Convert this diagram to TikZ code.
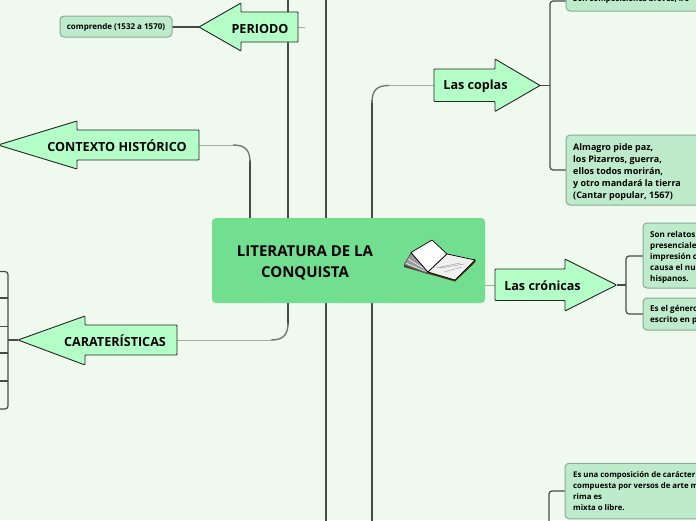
\documentclass[tikz,border=0pt]{standalone}
\usepackage{fontspec}
\setmainfont{Open Sans}
\usepackage{tikz}

\definecolor{bgcol}{HTML}{EFF9EE}
\definecolor{rootcol}{HTML}{72DE8F}
\definecolor{arrowcol}{HTML}{B4FFC8}
\definecolor{notecol}{HTML}{BEEBCB}
\definecolor{notedraw}{HTML}{8BAA95}
\definecolor{linecol}{HTML}{434D45}
\definecolor{thincol}{HTML}{A3AFA5}

\tikzset{
  root/.style={fill=rootcol, rounded corners=4pt},
  arrowbox/.style={draw=black!85, fill=arrowcol, line width=.9pt, rounded corners=.8pt},
  arrowtext/.style={inner sep=0pt, font=\bfseries\fontsize{12.6}{15}\selectfont},
  note/.style={draw=notedraw, fill=notecol, line width=1pt, rounded corners=4pt},
  notetext/.style={inner sep=0pt, anchor=north west, align=left, font=\bfseries\fontsize{9}{12}\selectfont},
  smalltext/.style={notetext, font=\bfseries\fontsize{8.1}{11}\selectfont},
  widetext/.style={notetext, font=\bfseries\fontsize{7.8}{11}\selectfont},
  trunk/.style={draw=linecol, line width=2pt},
  twig/.style={draw=linecol, line width=1.2pt, rounded corners=3pt},
  stem/.style={draw=thincol, line width=1pt},
  curveline/.style={draw=linecol!75, line width=1.4pt},
}

\begin{document}
\begin{tikzpicture}[x=1pt, y=-1pt]
  \clip (0,0) rectangle (696,520);
  \fill[bgcol] (0,0) rectangle (696,520);

  \coordinate (top) at (326,-5);
  \coordinate (bottom) at (326,525);
  \coordinate (leftend) at (250,218);
  \coordinate (midend) at (288,-5);
  \coordinate (copend) at (372,525);
  \coordinate (lowbr) at (549,525);

  % trunks behind the root
  \draw[trunk] (top) -- (bottom);
  \draw[trunk] (midend) -- (288,325);
  \draw[trunk] (copend) -- (372,100);
  \draw[trunk] (leftend) -- (250,160);
  \draw[stem] (199,145) -- (233,145);
  \draw[curveline] (233,145) .. controls (245,145) and (250,150) .. (250,162);
  \draw[stem] (177,340) -- (271,340);
  \draw[curveline] (271,340) .. controls (283,340) and (288,335) .. (288,323);
  \draw[stem] (434,85.5) -- (389,85.5);
  \draw[curveline] (389,85.5) .. controls (377,85.5) and (372,90) .. (372,103);

  % root
  \node[root, minimum width=273pt, minimum height=85pt, inner sep=0pt] (lit) at (348.5,260.5) {};
  \node[align=center, inner sep=0pt, font=\bfseries\fontsize{15}{21}\selectfont] (littext) at (305,263) {LITERATURA DE LA\\CONQUISTA};
  % book
  \fill[black!60!brown] (404,265) -- (404,267) -- (455,281.5) -- (475.5,262) -- (475,259) -- cycle;
  \draw[black!70, fill=black!40, line width=.6pt] (404,265) -- (411,253) -- (428,272) -- (428,274) -- cycle;
  \draw[white, line width=.5pt] (406,263) -- (426,272) (408,259) -- (427,270);
  \draw[black!70, line width=.4pt] (405,265) -- (428,273);
  \draw[black, fill=white, line width=.7pt] (411,252.5) -- (432,240) -- (447,254) -- (428,272) -- cycle;
  \draw[black, fill=black!6, line width=.7pt] (428,272) -- (447,254) -- (475,260) -- (455,280) -- cycle;
  \draw[black!40, line width=.4pt] (436,268) -- (460,263) (440,268) -- (464,264) (444,272) -- (462,267);

  % periodo
  \coordinate (periodoend) at (298,27);
  \coordinate (periodotip) at (199,27);
  \coordinate (periodostub) at (305,27);
  \draw[stem] (periodoend) -- (periodostub);
  \draw[twig, line width=1.4pt] (172,27) -- (periodotip);
  \draw[arrowbox] (298,12) -- (298,42) -- (241,42) -- (241,51) -- (199,27) -- (241,3) -- (241,12) -- cycle;
  \node[arrowtext] (periodo) at (260,28.5) {PERIODO};
  \node[note, minimum width=112pt, minimum height=21pt, inner sep=0pt] (comprende) at (116,26.5) {};
  \node[inner sep=0pt, font=\bfseries\fontsize{8}{9}\selectfont] (comprendetext) at (116,27) {comprende (1532 a 1570)};

  % contexto
  \draw[arrowbox] (199,130) -- (199,160) -- (77,160) -- (77,169) -- (-2,145) -- (77,121) -- (77,130) -- cycle;
  \node[arrowtext] (contexto) at (117,146) {CONTEXTO HISTÓRICO};

  % carateristicas
  \draw[twig] (0,271.5) -- (8,271.5) -- (8,409) -- (0,409);
  \foreach \ytick in {298,326.5,353,381} {
    \draw[twig] (0,\ytick) -- (8,\ytick);
  }
  \draw[twig, line width=1.4pt] (8,340) -- (18,340);
  \draw[arrowbox] (177,325) -- (177,355) -- (85,355) -- (85,365) -- (18,340) -- (85,316) -- (85,325) -- cycle;
  \node[arrowtext] (carat) at (115,341) {CARATERÍSTICAS};

  % las coplas
  \draw[twig] (540,85.5) -- (550,85.5);
  \draw[twig] (566,1) -- (550,1) -- (550,170) -- (566,170);
  \draw[arrowbox] (434,69) -- (434,101.5) -- (495,101.5) -- (495,111.5) -- (540,85.5) -- (495,59) -- (495,69) -- cycle;
  \node[arrowtext] (coplas) at (475.5,86.5) {Las coplas};
  \node[note, minimum width=140pt, minimum height=30pt, inner sep=0pt] (son) at (636,-4) {};
  \node[widetext] (sontext) at (573,-4.5) {Son composiciones breves, iró};
  \node[note, minimum width=140pt, minimum height=70pt, inner sep=0pt] (almagro) at (636,170) {};
  \node[notetext] (almagrotext) at (573,143.5) {Almagro pide paz,\\los Pizarros, guerra,\\ellos todos morirán,\\y otro mandará la tierra\\(Cantar popular, 1567)};

  % las cronicas
  \draw[stem] (485,285) -- (495,285);
  \draw[twig] (616.5,285) -- (626,285);
  \draw[twig] (643,256) -- (626,256) -- (626,314) -- (643,314);
  \draw[arrowbox] (495,269) -- (495,300.5) -- (565,300.5) -- (565,311) -- (616.5,285) -- (565,259) -- (565,269) -- cycle;
  \node[arrowtext] (cronicas) at (542.5,286) {Las crónicas};
  \node[note, minimum width=80pt, minimum height=65pt, inner sep=0pt] (relatos) at (683,255.5) {};
  \node[smalltext] (relatostext) at (650,231) {Son relatos\\presenciales\\impresión c\\causa el nu\\hispanos.};
  \node[note, minimum width=80pt, minimum height=32pt, inner sep=0pt] (genero) at (683,314) {};
  \node[smalltext] (generotext) at (650,305.5) {Es el género\\escrito en p};

  % bottom branch
  \draw[twig] (565,491) -- (549,491) -- (lowbr);
  \node[note, minimum width=140pt, minimum height=55.5pt, inner sep=0pt] (comp) at (635,491) {};
  \node[widetext] (comptext) at (573,471.5) {Es una composición de carácter\\compuesta por versos de arte m\\rima es\\mixta o libre.};
\end{tikzpicture}
\end{document}
